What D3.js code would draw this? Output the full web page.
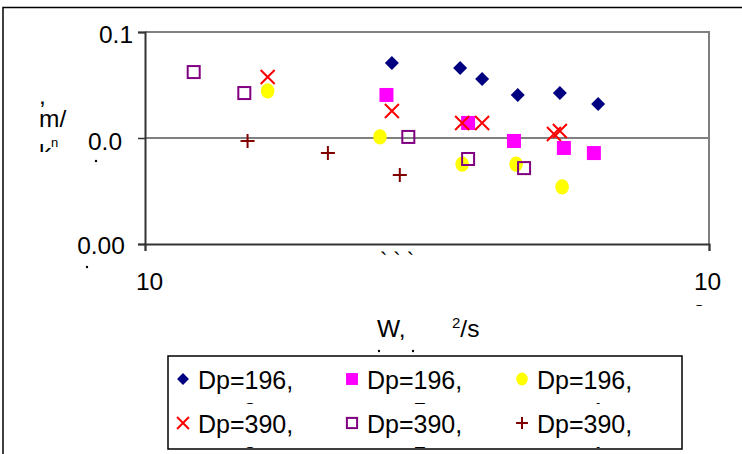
<!DOCTYPE html>
<html><head><meta charset="utf-8">
<script src="https://cdn.jsdelivr.net/npm/d3@7"></script>
<style>
body{margin:0;background:#fff}
text{font-family:"Liberation Sans",Arial,sans-serif;fill:#000}
</style>
</head><body>
<svg id="c" width="742" height="454"></svg>
<script>
// ---- data ----
const seriesNames = ["Dp=196,", "Dp=196,", "Dp=196,", "Dp=390,", "Dp=390,", "Dp=390,"];
const s1x = [27.4, 36.2, 39.6, 45.8, 54.4, 63.6];
const s1y = [0.0854, 0.0830, 0.0778, 0.0703, 0.0712, 0.0660];
const s2x = [26.8, 37.4, 45.1, 55.3, 62.5];
const s2y = [0.0703, 0.0571, 0.0486, 0.0453, 0.0429];
const s3x = [16.5, 26.1, 36.5, 45.5, 54.9];
const s3y = [0.0722, 0.0505, 0.0377, 0.0377, 0.0269];
const s4x = [16.5, 27.4, 36.5, 39.6, 53.1, 54.4];
const s4y = [0.0788, 0.0627, 0.0571, 0.0571, 0.0519, 0.0533];
const s5x = [12.2, 15.0, 29.3, 37.4, 47.0];
const s5y = [0.0811, 0.0712, 0.0505, 0.0401, 0.0358];
const s6x = [15.2, 21.1, 28.3];
const s6y = [0.0486, 0.0429, 0.0325];
const yTicks = [0, 0.05, 0.1];
const yTickLabels = ["0.00", "0.0", "0.1"];
const xTicks = [10, 100];
const xTickLabels = ["10", "10"];

const xs = [s1x, s2x, s3x, s4x, s5x, s6x];
const ys = [s1y, s2y, s3y, s4y, s5y, s6y];
const kinds = ["diamond", "square", "circle", "x", "osquare", "plus"];
const colors = ["#000080", "#FF00FF", "#FFFF00", "#FF0000", "#800080", "#800000"];

// ---- layout ----
const svg = d3.select("#c");
const L = 145, R = 709, T = 32, B = 244;
const x = d3.scaleLog().domain([10, 100]).range([L, R]);
const y = d3.scaleLinear().domain([0, 0.1]).range([B, T]);

// outer chart border
svg.append("path").attr("d", "M3,460 L3,7.5 L760,7.5").attr("fill", "none")
  .attr("stroke", "#000").attr("stroke-width", 1.5);

// plot frame (top/right) gray
svg.append("path").attr("d", `M${L},${T} L${R},${T} L${R},${B}`).attr("fill", "none")
  .attr("stroke", "#808080").attr("stroke-width", 2);

// gridline at middle
svg.append("line").attr("x1", L).attr("x2", R).attr("y1", y(0.05)).attr("y2", y(0.05))
  .attr("stroke", "#808080").attr("stroke-width", 2);

// y axis
const yAx = svg.append("g").attr("transform", `translate(${L},0)`)
  .call(d3.axisLeft(y).tickValues(yTicks).tickSize(7).tickFormat((d, i) => yTickLabels[i]));
yAx.select(".domain").attr("stroke", "#333").attr("stroke-width", 2);
yAx.selectAll(".tick line").attr("stroke", "#333").attr("stroke-width", 1.5);
const yLabDy = [9, 11, 10];
yAx.selectAll(".tick text").attr("font-size", 24.5).attr("text-anchor", "middle")
  .attr("x", (d, i) => -L + [101, 105, 116][i]).attr("dy", null)
  .attr("y", (d, i) => yLabDy[i]);

// x axis
const xAx = svg.append("g").attr("transform", `translate(0,${B})`)
  .call(d3.axisBottom(x).tickValues(xTicks).tickSize(7).tickFormat((d, i) => xTickLabels[i]));
xAx.select(".domain").attr("stroke", "#333").attr("stroke-width", 2);
xAx.selectAll(".tick line").attr("stroke", "#333").attr("stroke-width", 1.5);
xAx.selectAll(".tick text").attr("font-size", 24.5).attr("dy", null).attr("y", 46)
  .attr("dx", (d, i) => [4, -2][i]);

// clipped label fragments (wrapped text in the original)
const defs = svg.append("defs");
function clip(id, x0, y0, w, h) {
  defs.append("clipPath").attr("id", id).append("rect")
    .attr("x", x0).attr("y", y0).attr("width", w).attr("height", h);
  return `url(#${id})`;
}
// tiny remnants under tick labels
svg.append("circle").attr("cx", 96).attr("cy", 161).attr("r", 1.2).attr("fill", "#000");
svg.append("circle").attr("cx", 87).attr("cy", 267).attr("r", 1.2).attr("fill", "#000");
svg.append("text").attr("x", 699).attr("y", 322).attr("font-size", 24.5).attr("text-anchor", "middle")
  .attr("clip-path", clip("c1", 690, 300, 20, 6)).text("2");
svg.append("text").attr("x", 397).attr("y", 268).attr("font-size", 22).attr("text-anchor", "middle")
  .text("` ` `");

// y axis title (clipped wrapped text)
const yt = svg.append("g").attr("clip-path", clip("c2", 30, 98, 40, 54));
yt.append("text").attr("x", 39).attr("y", 104).attr("font-size", 24.5).text(",");
yt.append("text").attr("x", 39).attr("y", 127).attr("font-size", 24.5).text("m/");
yt.append("text").attr("x", 39).attr("y", 161).attr("font-size", 24.5).text("k");
yt.append("text").attr("x", 51).attr("y", 147).attr("font-size", 13).text("n");

// x axis title
svg.append("text").attr("x", 377).attr("y", 337).attr("font-size", 24.5).text("W,");
svg.append("text").attr("x", 452).attr("y", 337).attr("font-size", 24.5)
  .html('<tspan font-size="15" dy="-9">2</tspan><tspan dy="9">/s</tspan>');
svg.append("circle").attr("cx", 379).attr("cy", 351).attr("r", 1.2).attr("fill", "#000");
svg.append("circle").attr("cx", 413).attr("cy", 351).attr("r", 1.2).attr("fill", "#000");

// ---- markers ----
function marker(g, kind, color, s) {
  const h = 7 * s;
  if (kind === "diamond") g.append("path").attr("d", `M0,${-h}L${h},0L0,${h}L${-h},0Z`).attr("fill", color);
  else if (kind === "square") g.append("rect").attr("x", -h).attr("y", -h).attr("width", 2 * h).attr("height", 2 * h).attr("fill", color);
  else if (kind === "circle") g.append("ellipse").attr("rx", 6.8 * s).attr("ry", 7.6 * s).attr("fill", color);
  else if (kind === "x") g.append("path").attr("d", `M${-h},${-h}L${h},${h}M${-h},${h}L${h},${-h}`).attr("stroke", color).attr("stroke-width", 2).attr("fill", "none");
  else if (kind === "osquare") g.append("rect").attr("x", -6 * s).attr("y", -6 * s).attr("width", 12 * s).attr("height", 12 * s).attr("fill", "none").attr("stroke", color).attr("stroke-width", 2);
  else if (kind === "plus") g.append("path").attr("d", `M${-h},0L${h},0M0,${-h}L0,${h}`).attr("stroke", color).attr("stroke-width", 2).attr("fill", "none");
}
xs.forEach((sx, k) => {
  sx.forEach((v, i) => {
    const g = svg.append("g").attr("transform", `translate(${x(v)},${y(ys[k][i])})`);
    marker(g, kinds[k], colors[k], 1);
  });
});

// ---- legend ----
const LX = 168, LY = 356, LW = 514, LH = 93;
svg.append("rect").attr("x", LX).attr("y", LY).attr("width", LW).attr("height", LH)
  .attr("fill", "#fff").attr("stroke", "#000").attr("stroke-width", 1.5);
const colX = [183, 352, 522];
const rowY = [379, 423];
const secondLine = ["3", "5", "1"];
seriesNames.forEach((name, k) => {
  const c = k % 3, r = Math.floor(k / 3);
  const g = svg.append("g").attr("transform", `translate(${colX[c]},${rowY[r]})`);
  marker(g, kinds[k], colors[k], 0.85);
  const tg = svg.append("g").attr("clip-path", clip("lg" + k, colX[c] + 10, rowY[r] - 22, 160, 47));
  tg.append("text").attr("x", colX[c] + 15).attr("y", rowY[r] + 10).attr("font-size", 25).text(name);
  tg.append("text").attr("x", colX[c] + [67, 68, 76][c]).attr("y", rowY[r] + 42).attr("font-size", 25)
    .attr("text-anchor", "middle").text(secondLine[c]);
});
</script>
</body></html>
